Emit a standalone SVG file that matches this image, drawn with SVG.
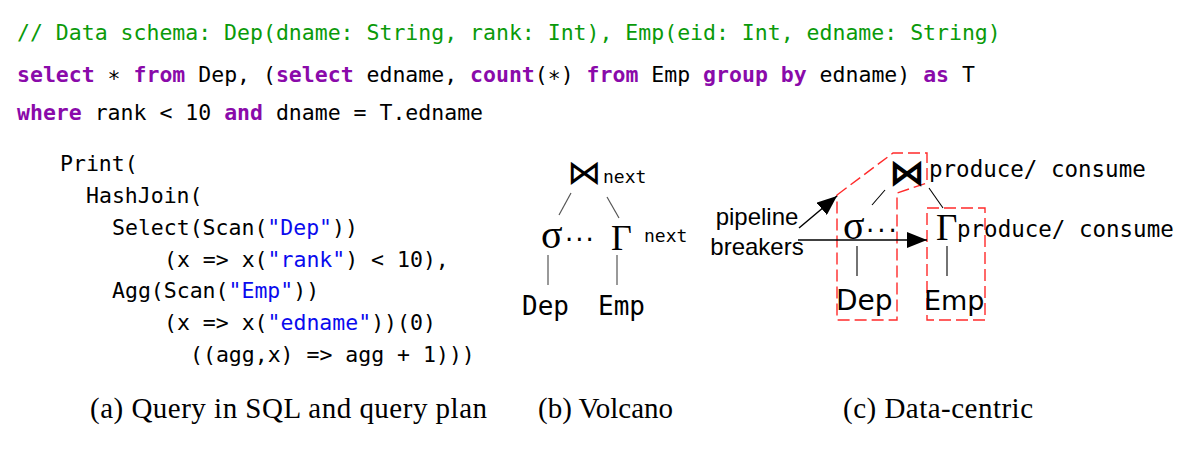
<svg xmlns="http://www.w3.org/2000/svg" width="1201" height="457" viewBox="0 0 1201 457">
  <defs>
    <style>
      .code { font-family: "DejaVu Sans Mono", monospace; font-size: 21.5px; fill: #000; }
      .cm { fill: #0a9a0a; }
      .kw { fill: #8a0aaa; font-weight: bold; }
      .str { fill: #0a0aee; }
      .mono { font-family: "DejaVu Sans Mono", monospace; fill: #000; }
      .sym { font-family: "DejaVu Sans", sans-serif; fill: #000; }
      .dots { font-family: "DejaVu Sans", sans-serif; font-size: 26px; fill: #000; }
      .greek { font-family: "Liberation Serif", serif; fill: #000; }
      .label { font-family: "Liberation Sans", sans-serif; font-size: 24px; fill: #000; text-anchor: middle; }
      .caption { font-family: "Liberation Serif", serif; font-size: 29px; fill: #000; }
      .edge-b { stroke: #555; stroke-width: 1.2; fill: none; }
      .edge-c { stroke: #000; stroke-width: 1.1; fill: none; }
      .breaker { stroke: #ff2a2a; stroke-width: 1.4; stroke-dasharray: 12 5; fill: none; }
      .arrow { stroke: #000; stroke-width: 1.4; fill: none; marker-end: url(#head); }
    </style>
    <marker id="head" viewBox="0 0 20 16" refX="20" refY="8" markerWidth="20" markerHeight="16" markerUnits="userSpaceOnUse" orient="auto">
      <path d="M0,0 L20,8 L0,16 z" fill="#000"/>
    </marker>
  </defs>

  <!-- SQL query -->
  <g id="sql" class="code">
    <text x="17" y="40" class="cm" xml:space="preserve">// Data schema: Dep(dname: String, rank: Int), Emp(eid: Int, edname: String)</text>
    <text x="17" y="82" xml:space="preserve"><tspan class="kw">select</tspan> ∗ <tspan class="kw">from</tspan> Dep, (<tspan class="kw">select</tspan> edname, <tspan class="kw">count</tspan>(∗) <tspan class="kw">from</tspan> Emp <tspan class="kw">group by</tspan> edname) <tspan class="kw">as</tspan> T</text>
    <text x="17" y="120" xml:space="preserve"><tspan class="kw">where</tspan> rank &lt; 10 <tspan class="kw">and</tspan> dname = T.edname</text>
  </g>

  <!-- Query plan as operator code -->
  <g id="plan-code" class="code">
    <text x="60" y="171">Print(</text>
    <text x="86" y="203">HashJoin(</text>
    <text x="112" y="234.5">Select(Scan(<tspan class="str">"Dep"</tspan>))</text>
    <text x="164" y="266.5" xml:space="preserve">(x =&gt; x(<tspan class="str">"rank"</tspan>) &lt; 10),</text>
    <text x="112" y="298">Agg(Scan(<tspan class="str">"Emp"</tspan>))</text>
    <text x="164" y="330" xml:space="preserve">(x =&gt; x(<tspan class="str">"edname"</tspan>))(0)</text>
    <text x="190" y="362" xml:space="preserve">((agg,x) =&gt; agg + 1)))</text>
  </g>

  <!-- Volcano connectors -->
  <g id="volcano-edges">
    <line class="edge-b" x1="571" y1="193" x2="559" y2="215"/>
    <line class="edge-b" x1="607" y1="197" x2="619" y2="218"/>
    <line class="edge-b" x1="548" y1="255" x2="548" y2="285" stroke="#777" stroke-width="1.6"/>
    <line class="edge-b" x1="617" y1="255" x2="617" y2="285" stroke="#777" stroke-width="1.6"/>
  </g>

  <!-- Volcano nodes -->
  <g id="v-join">
    <text class="sym" x="584" y="184" font-size="34" text-anchor="middle">⋈</text>
    <text class="mono" x="603" y="183" font-size="18">next</text>
  </g>
  <g id="v-select">
    <text class="greek" x="541" y="248" font-size="40">σ</text>
    <text class="dots" x="565" y="249" letter-spacing="2">···</text>
  </g>
  <g id="v-agg">
    <text class="greek" x="611" y="250" font-size="36">Γ</text>
    <text class="mono" x="644" y="242" font-size="18">next</text>
  </g>
  <g id="v-dep">
    <text class="mono" x="522" y="315" font-size="26">Dep</text>
  </g>
  <g id="v-emp">
    <text class="mono" x="598" y="315" font-size="26">Emp</text>
  </g>

  <!-- Data-centric: pipeline regions -->
  <g id="pipelines">
    <polygon class="breaker" points="837,195 893,153 927,153 927,183 897,193 897,320 837,320"/>
    <rect class="breaker" x="927" y="208" width="58" height="112"/>
  </g>

  <!-- Data-centric connectors -->
  <g id="datacentric-edges">
    <line class="edge-c" x1="885" y1="190" x2="872" y2="205"/>
    <line class="edge-c" x1="929" y1="188" x2="943" y2="208"/>
    <line class="edge-c" x1="857" y1="246" x2="857" y2="276" stroke-width="1.3"/>
    <line class="edge-c" x1="947" y1="246" x2="947" y2="276" stroke-width="1.3"/>
    <line class="arrow" x1="799" y1="228" x2="837" y2="196"/>
    <line class="arrow" x1="798" y1="240" x2="927" y2="240"/>
  </g>

  <!-- Data-centric nodes -->
  <g id="c-join">
    <text class="sym" x="907" y="185" font-size="36" font-weight="bold" text-anchor="middle">⋈</text>
    <text class="mono" x="929" y="177" font-size="22.5">produce/ consume</text>
  </g>
  <g id="c-select">
    <text class="greek" x="843" y="239" font-size="40">σ</text>
    <text class="dots" x="866" y="240" letter-spacing="3">···</text>
  </g>
  <g id="c-agg">
    <text class="greek" x="936" y="240" font-size="37">Γ</text>
    <text class="mono" x="957" y="237" font-size="22.5">produce/ consume</text>
  </g>
  <g id="c-dep">
    <text class="sym" x="836" y="310" font-size="28">Dep</text>
  </g>
  <g id="c-emp">
    <text class="sym" x="924" y="310" font-size="27">Emp</text>
  </g>
  <g id="c-breakers">
    <text class="label" x="757" y="225">pipeline</text>
    <text class="label" x="757" y="255">breakers</text>
  </g>

  <!-- Captions -->
  <g id="captions">
    <text class="caption" x="90" y="418" textLength="397" lengthAdjust="spacing">(a) Query in SQL and query plan</text>
    <text class="caption" x="538" y="418">(b) Volcano</text>
    <text class="caption" x="843" y="418" textLength="190" lengthAdjust="spacing">(c) Data-centric</text>
  </g>
</svg>
